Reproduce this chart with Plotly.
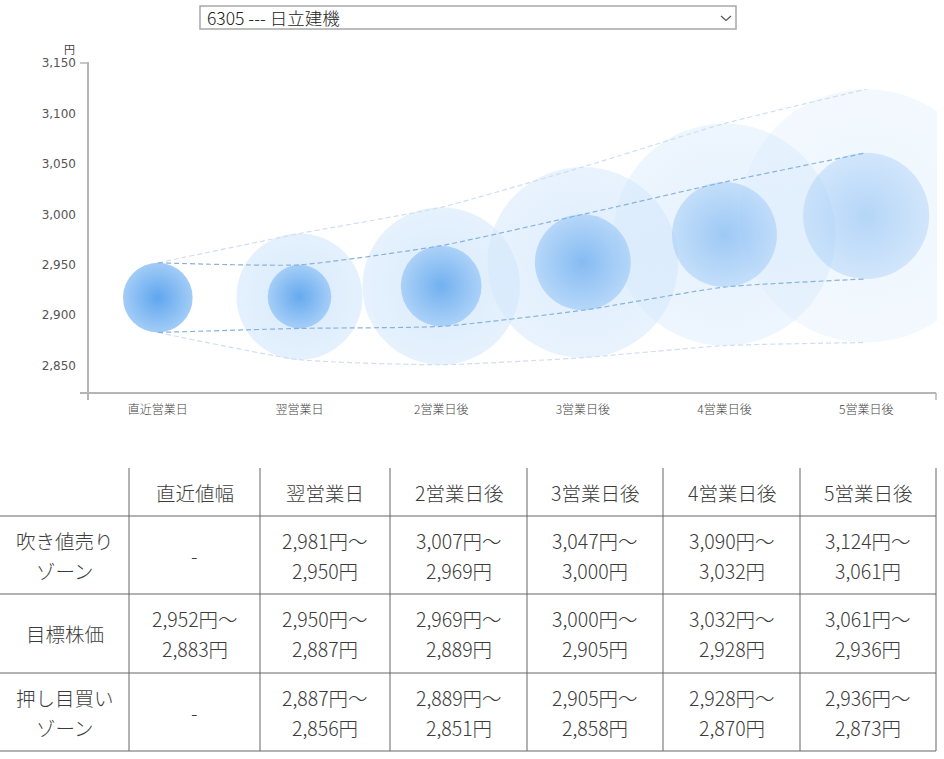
import plotly.graph_objects as go

W, H = 944, 759

# ---------------- data ----------------
ticker_label = "6305 --- 日立建機"
unit_label = "円"
categories = ["直近営業日", "翌営業日", "2営業日後", "3営業日後", "4営業日後", "5営業日後"]
table_headers = ["直近値幅", "翌営業日", "2営業日後", "3営業日後", "4営業日後", "5営業日後"]
row_labels = [["吹き値売り", "ゾーン"], ["目標株価"], ["押し目買い", "ゾーン"]]

sell_high = [None, 2981, 3007, 3047, 3090, 3124]
sell_low = [None, 2950, 2969, 3000, 3032, 3061]
target_high = [2952, 2950, 2969, 3000, 3032, 3061]
target_low = [2883, 2887, 2889, 2905, 2928, 2936]
buy_high = [None, 2887, 2889, 2905, 2928, 2936]
buy_low = [None, 2856, 2851, 2858, 2870, 2873]

y_ticks = [2850, 2900, 2950, 3000, 3050, 3100, 3150]
y_range = [2823, 3150]

# ---------------- layout geometry (pixels) ----------------
PL, PR, PT, PB = 87, 937, 63, 393
px_per_unit = (PB - PT) / (y_range[1] - y_range[0])


def fx(p):
    return p / W


def fy(p):
    return 1 - p / H


FONT_JP = "Noto Sans CJK JP"
TXT = "#3c3c3c"

fig = go.Figure()

# outer (zone) circles
ox, oy, osz = [], [], []
for c, hi, lo in zip(categories, sell_high, buy_low):
    if hi is None:
        continue
    ox.append(c)
    oy.append((hi + lo) / 2)
    osz.append((hi - lo) * px_per_unit)
outer_opacity = [1.0, 0.95, 0.85, 0.65, 0.45]
fig.add_trace(go.Scatter(
    x=ox, y=oy, mode="markers", hoverinfo="skip", showlegend=False,
    marker=dict(size=osz, sizemode="diameter",
                color="rgba(212,232,252,0.62)",
                opacity=outer_opacity[:len(ox)],
                line=dict(width=0),
                gradient=dict(type="radial", color="rgba(192,221,250,0.62)")),
))

# inner (target) circles
iy = [(h + l) / 2 for h, l in zip(target_high, target_low)]
isz = [(h - l) * px_per_unit for h, l in zip(target_high, target_low)]
inner_opacity = [1.0, 0.95, 0.85, 0.7, 0.54, 0.4]
fig.add_trace(go.Scatter(
    x=categories, y=iy, mode="markers", hoverinfo="skip", showlegend=False,
    marker=dict(size=isz, sizemode="diameter",
                color="rgb(162,204,247)",
                opacity=inner_opacity,
                line=dict(width=0),
                gradient=dict(type="radial", color="rgb(96,166,238)")),
))

# dashed guide lines
outer_upper = [target_high[0]] + sell_high[1:]
outer_lower = [target_low[0]] + buy_low[1:]
for ys, col in [(outer_upper, "#cfdff0"), (outer_lower, "#cfdff0"),
                (target_high, "#88b2de"), (target_low, "#88b2de")]:
    fig.add_trace(go.Scatter(
        x=categories, y=ys, mode="lines", hoverinfo="skip", showlegend=False,
        line=dict(color=col, width=1.2, dash="5px,3px", shape="spline", smoothing=0.5),
    ))

shapes = []
annotations = []
AX = "#b5b5b5"
# axis lines
shapes.append(dict(type="line", xref="paper", yref="paper", x0=fx(88), x1=fx(88), y0=fy(62), y1=fy(400), line=dict(color=AX, width=2)))
shapes.append(dict(type="line", xref="paper", yref="paper", x0=fx(80), x1=fx(88), y0=fy(63), y1=fy(63), line=dict(color=AX, width=1.5)))
shapes.append(dict(type="line", xref="paper", yref="paper", x0=fx(80), x1=fx(936), y0=fy(393), y1=fy(393), line=dict(color=AX, width=2)))
shapes.append(dict(type="line", xref="paper", yref="paper", x0=fx(936), x1=fx(936), y0=fy(393), y1=fy(400), line=dict(color=AX, width=1.5)))

annotations.append(dict(xref="paper", yref="paper", x=fx(69), y=fy(49), text=unit_label, showarrow=False,
                        font=dict(family=FONT_JP, size=11, color="#444"), xanchor="center", yanchor="middle"))

# dropdown box
shapes.append(dict(type="rect", xref="paper", yref="paper", x0=fx(200), x1=fx(736), y0=fy(6), y1=fy(29),
                   line=dict(color="#a8a8a8", width=1.5), fillcolor="white"))
annotations.append(dict(xref="paper", yref="paper", x=fx(205), y=fy(18), text=ticker_label, showarrow=False,
                        font=dict(family=FONT_JP, size=17.5, color="#222", weight=300), xanchor="left", yanchor="middle"))
shapes.append(dict(type="path", xref="paper", yref="paper",
                   path=f"M {fx(721)},{fy(16)} L {fx(726)},{fy(20.5)} L {fx(731)},{fy(16)}",
                   line=dict(color="#555", width=1.2)))

# ---------------- table ----------------
col_edges = [0, 129, 260, 390, 527, 663, 800, 936]
row_edges = [468, 516, 594, 673, 751]
TL = "#666"
for ye in row_edges[1:]:
    shapes.append(dict(type="line", xref="paper", yref="paper", x0=fx(0), x1=fx(col_edges[-1]), y0=fy(ye), y1=fy(ye),
                       line=dict(color=TL, width=1)))
for xe in col_edges[1:]:
    shapes.append(dict(type="line", xref="paper", yref="paper", x0=fx(xe), x1=fx(xe), y0=fy(row_edges[0]), y1=fy(row_edges[-1]),
                       line=dict(color=TL, width=1)))

TFS = 19.5


def cell_text(cx, cy, lines):
    n = len(lines)
    for i, t in enumerate(lines):
        yy = cy + (i - (n - 1) / 2) * 30
        annotations.append(dict(xref="paper", yref="paper", x=fx(cx), y=fy(yy), text=t, showarrow=False,
                                font=dict(family=FONT_JP, size=TFS, color=TXT, weight=300),
                                xanchor="center", yanchor="middle"))


col_centers = [(a + b) / 2 for a, b in zip(col_edges[:-1], col_edges[1:])]
row_centers = [(a + b) / 2 for a, b in zip(row_edges[:-1], row_edges[1:])]

for j, h in enumerate(table_headers):
    cell_text(col_centers[j + 1], row_centers[0], [h])
for r, lab in enumerate(row_labels):
    cell_text(col_centers[0], row_centers[r + 1], lab)

rows = [(sell_high, sell_low), (target_high, target_low), (buy_high, buy_low)]
for r, (his, los) in enumerate(rows):
    for j, (hi, lo) in enumerate(zip(his, los)):
        if hi is None:
            cell_text(col_centers[j + 1], row_centers[r + 1], ["-"])
        else:
            cell_text(col_centers[j + 1], row_centers[r + 1], [f"{hi:,}円～", f"{lo:,}円"])

fig.update_layout(
    width=W, height=H, margin=dict(l=0, r=0, t=0, b=0),
    paper_bgcolor="white", plot_bgcolor="rgba(0,0,0,0)",
    shapes=shapes, annotations=annotations, showlegend=False,
    xaxis=dict(domain=[fx(PL), fx(PR)], type="category", range=[-0.5, 5.5],
               categoryorder="array", categoryarray=categories,
               showgrid=False, zeroline=False, showline=False, ticks="",
               tickfont=dict(family=FONT_JP, size=12, color="#444", weight=300),
               ticklabelstandoff=8, automargin=False, fixedrange=True),
    yaxis=dict(domain=[fy(PB), fy(PT)], range=y_range, tickvals=y_ticks, tickformat=",",
               showgrid=False, zeroline=False, showline=False, ticks="",
               tickfont=dict(family="DejaVu Sans", size=12, color="#555"),
               ticklabelstandoff=10, automargin=False, fixedrange=True),
)

fig.write_html("out.html", config={"displayModeBar": False},
               post_script="document.body.style.margin='0';document.body.style.overflow='hidden';")
